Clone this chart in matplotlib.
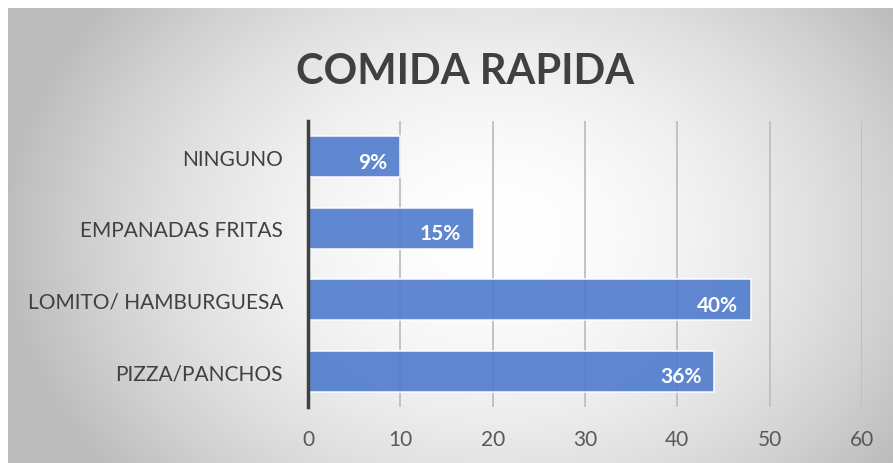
import numpy as np
import matplotlib.pyplot as plt

categorias = ["PIZZA/PANCHOS", "LOMITO/ HAMBURGUESA", "EMPANADAS FRITAS", "NINGUNO"]
valores = [44, 48, 18, 10]
etiquetas = ["36%", "40%", "15%", "9%"]
ticks_x = [0, 10, 20, 30, 40, 50, 60]

W, H = 893, 464
fig = plt.figure(figsize=(W / 100, H / 100), dpi=100)
fig.patch.set_facecolor("white")

# fondo con degradado radial (gris en bordes, blanco en el centro)
bg = fig.add_axes([8 / W, 0, (W - 8) / W, (H - 9) / H])
yy, xx = np.mgrid[0:1:300j, 0:1:600j]
d = np.sqrt(((xx - 0.55) / 0.6) ** 2 + ((yy - 0.5) / 0.9) ** 2)
g = np.clip(1 - 0.3 * d ** 1.8, 0.74, 1)
bg.imshow(np.dstack([g, g, g]), aspect="auto", extent=[0, 1, 0, 1], interpolation="bilinear")
bg.set_axis_off()

ax = fig.add_axes([308 / W, 1 - 408 / H, 554 / W, 286 / H])
ax.patch.set_alpha(0)
y = np.arange(len(categorias))
ax.set_xlim(0, 60)
ax.set_ylim(-0.5, 3.5)
ax.set_xticks(ticks_x)
ax.grid(axis="x", color="#bfbfbf", linewidth=1.3, zorder=0)
ax.barh(y, valores, height=0.58, color="#4f7bcc", alpha=0.9, edgecolor="white",
        linewidth=1.2, zorder=3)

for yi, v, t in zip(y, valores, etiquetas):
    ax.text(v - 1.4, yi - 0.07, t, ha="right", va="center", color="white",
            fontsize=15, fontweight="bold", family="Lato", zorder=4)

ax.set_yticks(y)
ax.set_yticklabels(categorias, fontsize=15, color="#404040", family="Lato")
ax.tick_params(axis="y", length=0, pad=18)
ax.tick_params(axis="x", length=0, pad=16, labelsize=15, labelcolor="#595959")
for lab in ax.get_xticklabels():
    lab.set_family("Lato")
for s in ["top", "right", "bottom"]:
    ax.spines[s].set_visible(False)
ax.spines["left"].set_color("#404040")
ax.spines["left"].set_linewidth(2.5)
ax.spines["left"].set_zorder(5)

fig.text(465 / W, 1 - 72 / H, "COMIDA RAPIDA", ha="center", va="center",
         fontsize=30, fontweight="bold", color="#404040", family="Lato")

fig.savefig("out.png", dpi=100)
